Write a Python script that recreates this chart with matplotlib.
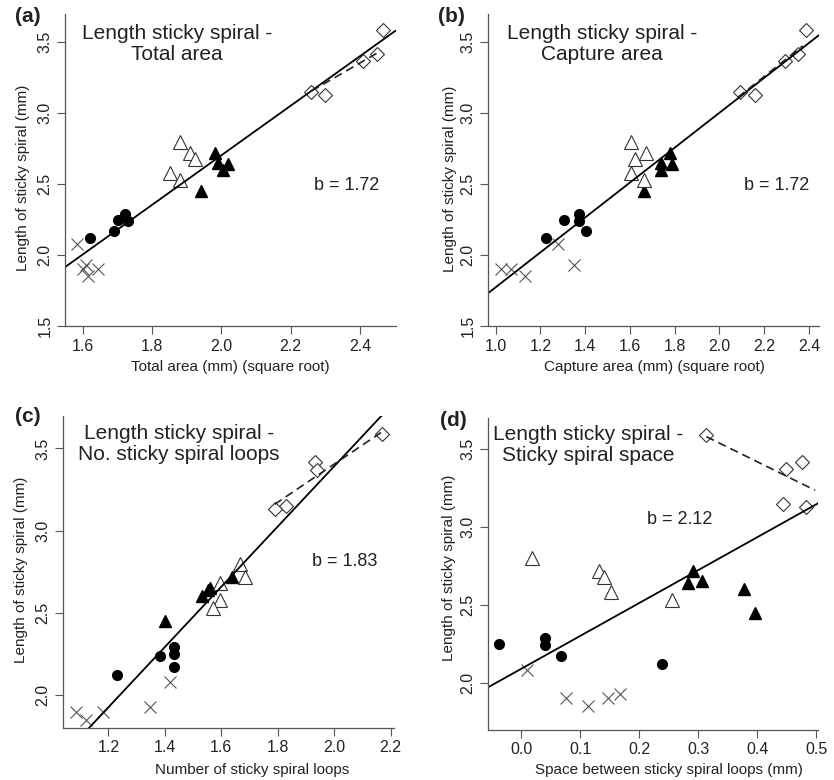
import matplotlib.pyplot as plt

plt.rcParams['font.family'] = ['Liberation Sans', 'DejaVu Sans']

W, H = 834, 780

# length of sticky spiral (shared y values per group)
cross_y = [2.08, 1.93, 1.90, 1.90, 1.85]
circle_y = [2.29, 2.25, 2.24, 2.17, 2.12]
trif_y = [2.72, 2.65, 2.64, 2.60, 2.45]
trio_y = [2.80, 2.72, 2.68, 2.58, 2.53]
diam_y = [3.59, 3.42, 3.37, 3.15, 3.13]

# (a) total area
a_cross_x = [1.584, 1.609, 1.601, 1.642, 1.615]
a_circle_x = [1.721, 1.700, 1.731, 1.689, 1.620]
a_trif_x = [1.981, 1.990, 2.019, 2.003, 1.941]
a_trio_x = [1.880, 1.909, 1.923, 1.851, 1.880]
a_diam_x = [2.466, 2.449, 2.408, 2.258, 2.298]
a_fit_x, a_fit_y = [1.548, 2.502], [1.915, 3.581]
a_dash_x, a_dash_y = [2.260, 2.452], [3.157, 3.428]

# (b) capture area
b_cross_x = [1.280, 1.352, 1.022, 1.070, 1.133]
b_circle_x = [1.373, 1.306, 1.373, 1.406, 1.227]
b_trif_x = [1.778, 1.737, 1.786, 1.740, 1.664]
b_trio_x = [1.604, 1.674, 1.625, 1.604, 1.664]
b_diam_x = [2.389, 2.352, 2.292, 2.091, 2.158]
b_fit_x, b_fit_y = [0.966, 2.445], [1.731, 3.551]
b_dash_x, b_dash_y = [2.082, 2.372], [3.112, 3.475]

# (c) number of loops
c_cross_x = [1.419, 1.348, 1.084, 1.181, 1.119]
c_circle_x = [1.432, 1.432, 1.381, 1.432, 1.230]
c_trif_x = [1.637, 1.560, 1.552, 1.532, 1.400]
c_trio_x = [1.665, 1.685, 1.594, 1.594, 1.570]
c_diam_x = [2.169, 1.931, 1.939, 1.828, 1.789]
c_fit_x, c_fit_y = [1.131, 2.167], [1.800, 3.697]
c_dash_x, c_dash_y = [1.789, 2.169], [3.160, 3.600]

# (d) space between loops
d_cross_x = [0.010, 0.167, 0.076, 0.148, 0.114]
d_circle_x = [0.041, -0.037, 0.041, 0.067, 0.239]
d_trif_x = [0.292, 0.306, 0.283, 0.378, 0.396]
d_trio_x = [0.018, 0.132, 0.141, 0.153, 0.256]
d_diam_x = [0.314, 0.476, 0.449, 0.443, 0.482]
d_fit_x, d_fit_y = [-0.056, 0.504], [1.970, 3.154]
d_dash_x, d_dash_y = [0.314, 0.498], [3.580, 3.236]

panels = [
    dict(tag='(a)', title='Length sticky spiral -\nTotal area', b='b = 1.72',
         xlabel='Total area (mm) (square root)',
         xs=[a_cross_x, a_circle_x, a_trif_x, a_trio_x, a_diam_x],
         fit=(a_fit_x, a_fit_y), dash=(a_dash_x, a_dash_y),
         box=(65, 14, 396, 326), xlim=(1.548, 2.504), ylim=(1.5, 3.70),
         xticks=[1.6, 1.8, 2.0, 2.2, 2.4], yticks=[1.5, 2.0, 2.5, 3.0, 3.5],
         tagpos=(28, 17), titlepos=(177, 44), bpos=(347, 185),
         xlabpos=(230, 367), ylabpos=(23, 178)),
    dict(tag='(b)', title='Length sticky spiral -\nCapture area', b='b = 1.72',
         xlabel='Capture area (mm) (square root)',
         xs=[b_cross_x, b_circle_x, b_trif_x, b_trio_x, b_diam_x],
         fit=(b_fit_x, b_fit_y), dash=(b_dash_x, b_dash_y),
         box=(488, 14, 819, 326), xlim=(0.966, 2.445), ylim=(1.5, 3.70),
         xticks=[1.0, 1.2, 1.4, 1.6, 1.8, 2.0, 2.2, 2.4], yticks=[1.5, 2.0, 2.5, 3.0, 3.5],
         tagpos=(451, 17), titlepos=(602, 44), bpos=(777, 185),
         xlabpos=(654, 367), ylabpos=(450, 179)),
    dict(tag='(c)', title='Length sticky spiral -\nNo. sticky spiral loops', b='b = 1.83',
         xlabel='Number of sticky spiral loops',
         xs=[c_cross_x, c_circle_x, c_trif_x, c_trio_x, c_diam_x],
         fit=(c_fit_x, c_fit_y), dash=(c_dash_x, c_dash_y),
         box=(63, 416, 394, 728), xlim=(1.039, 2.212), ylim=(1.80, 3.697),
         xticks=[1.2, 1.4, 1.6, 1.8, 2.0, 2.2], yticks=[2.0, 2.5, 3.0, 3.5],
         tagpos=(28, 417), titlepos=(179, 444), bpos=(345, 562),
         xlabpos=(252, 770), ylabpos=(21, 570)),
    dict(tag='(d)', title='Length sticky spiral -\nSticky spiral space', b='b = 2.12',
         xlabel='Space between sticky spiral loops (mm)',
         xs=[d_cross_x, d_circle_x, d_trif_x, d_trio_x, d_diam_x],
         fit=(d_fit_x, d_fit_y), dash=(d_dash_x, d_dash_y),
         box=(488, 418, 818, 730), xlim=(-0.056, 0.503), ylim=(1.696, 3.70),
         xticks=[0.0, 0.1, 0.2, 0.3, 0.4, 0.5], yticks=[2.0, 2.5, 3.0, 3.5],
         tagpos=(453, 420), titlepos=(588, 445), bpos=(680, 520),
         xlabpos=(669, 770), ylabpos=(449, 568)),
]

ys = [cross_y, circle_y, trif_y, trio_y, diam_y]
styles = [
    dict(marker='x', ms=8, color='#555555', mew=0.8, ls='none'),
    dict(marker='o', ms=7, color='black', ls='none'),
    dict(marker='^', ms=9, color='black', ls='none'),
    dict(marker='^', ms=10, mfc='white', mec='#333333', mew=0.8, ls='none'),
    dict(marker='D', ms=7.5, mfc='white', mec='#333333', mew=0.8, ls='none'),
]

fig = plt.figure(figsize=(W / 100, H / 100), dpi=100)

for p in panels:
    l, t, r, bt = p['box']
    ax = fig.add_axes([l / W, 1 - bt / H, (r - l) / W, (bt - t) / H])
    for xv, yv, st in zip(p['xs'], ys, styles):
        ax.plot(xv, yv, clip_on=False, **st)
    ax.plot(p['fit'][0], p['fit'][1], color='black', lw=1.3)
    ax.plot(p['dash'][0], p['dash'][1], color='#222222', lw=1.2, ls=(0, (5, 3)))
    ax.set_xlim(p['xlim'])
    ax.set_ylim(p['ylim'])
    ax.set_xticks(p['xticks'])
    ax.set_xticklabels(['%.1f' % v for v in p['xticks']])
    ax.set_yticks(p['yticks'])
    ax.set_yticklabels(['%.1f' % v for v in p['yticks']], rotation=90, va='center')
    ax.tick_params(length=6, width=0.8, colors='#555555', labelcolor='#222222',
                   labelsize=11.5, pad=3)
    for s in ['top', 'right']:
        ax.spines[s].set_visible(False)
    for s in ['left', 'bottom']:
        ax.spines[s].set_color('#555555')
        ax.spines[s].set_linewidth(0.9)
    ax.patch.set_alpha(0)

    fig.text(p['tagpos'][0] / W, 1 - p['tagpos'][1] / H, p['tag'], fontsize=15,
             fontweight='bold', ha='center', va='center', color='#222222')
    fig.text(p['titlepos'][0] / W, 1 - p['titlepos'][1] / H, p['title'], fontsize=15,
             ha='center', va='center', linespacing=1.15, color='#222222')
    fig.text(p['bpos'][0] / W, 1 - p['bpos'][1] / H, p['b'], fontsize=13,
             ha='center', va='center', color='#222222')
    fig.text(p['xlabpos'][0] / W, 1 - p['xlabpos'][1] / H, p['xlabel'], fontsize=11,
             ha='center', va='center', color='#222222')
    fig.text(p['ylabpos'][0] / W, 1 - p['ylabpos'][1] / H, 'Length of sticky spiral (mm)',
             fontsize=11, rotation=90, ha='center', va='center', color='#222222')

fig.savefig('out.png', dpi=100)
plt.close(fig)
